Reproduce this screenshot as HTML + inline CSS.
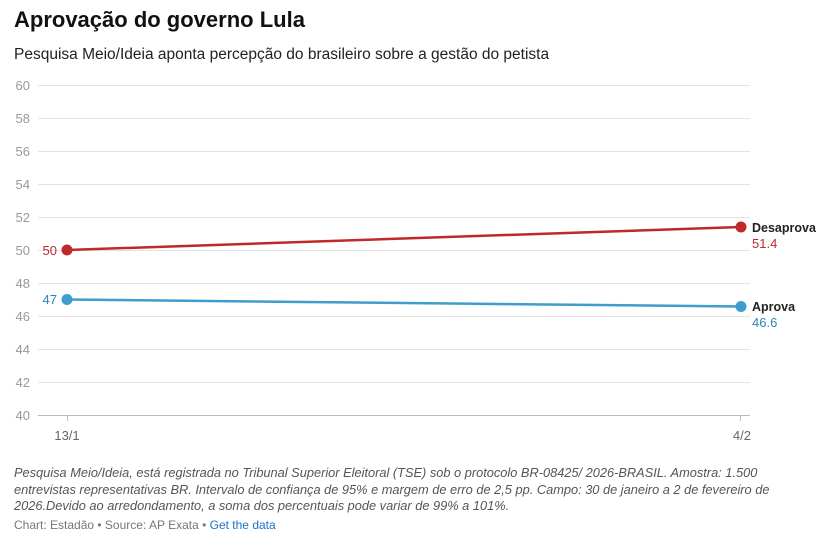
<!DOCTYPE html>
<html><head><meta charset="utf-8"><style>
body{margin:0;background:#fff;font-family:"Liberation Sans",sans-serif;}
.t{position:absolute;left:14px;top:7px;font-size:22px;font-weight:bold;color:#111;}
.s{position:absolute;left:14px;top:46px;font-size:15.5px;color:#222;}
.n{position:absolute;left:14px;top:465px;width:770px;font-size:12.8px;font-style:italic;color:#555;line-height:16.5px;}
.c{position:absolute;left:14px;top:518px;font-size:12px;color:#777;}
.c a{color:#1a73c9;text-decoration:none;}
</style></head><body>
<div class="t">Aprovação do governo Lula</div>
<div class="s">Pesquisa Meio/Ideia aponta percepção do brasileiro sobre a gestão do petista</div>
<svg width="826" height="546" style="position:absolute;left:0;top:0" font-family="Liberation Sans, sans-serif">
<g stroke="#e3e3e3" stroke-width="1">
<line x1="38" x2="750" y1="85.5" y2="85.5"/><line x1="38" x2="750" y1="118.5" y2="118.5"/>
<line x1="38" x2="750" y1="151.5" y2="151.5"/><line x1="38" x2="750" y1="184.5" y2="184.5"/>
<line x1="38" x2="750" y1="217.5" y2="217.5"/><line x1="38" x2="750" y1="250.5" y2="250.5"/>
<line x1="38" x2="750" y1="283.5" y2="283.5"/><line x1="38" x2="750" y1="316.5" y2="316.5"/>
<line x1="38" x2="750" y1="349.5" y2="349.5"/><line x1="38" x2="750" y1="382.5" y2="382.5"/>
</g>
<line x1="38" x2="750" y1="415.5" y2="415.5" stroke="#bbb"/>
<line x1="67.5" x2="67.5" y1="415" y2="421" stroke="#bbb"/>
<line x1="740.5" x2="740.5" y1="415" y2="421" stroke="#bbb"/>
<g font-size="13" fill="#999" text-anchor="end">
<text x="30" y="90">60</text><text x="30" y="123">58</text><text x="30" y="156">56</text>
<text x="30" y="189">54</text><text x="30" y="222">52</text><text x="30" y="255">50</text>
<text x="30" y="288">48</text><text x="30" y="321">46</text><text x="30" y="354">44</text>
<text x="30" y="387">42</text><text x="30" y="420">40</text>
</g>
<g font-size="13" fill="#666">
<text x="67" y="440" text-anchor="middle">13/1</text>
<text x="751" y="440" text-anchor="end">4/2</text>
</g>
<line x1="67" y1="250" x2="741" y2="227" stroke="#c0282a" stroke-width="2.5"/>
<line x1="67" y1="299.5" x2="741" y2="306.5" stroke="#3d9dcc" stroke-width="2.5"/>
<circle cx="67" cy="250" r="5.5" fill="#c0282a"/><circle cx="741" cy="227" r="5.5" fill="#c0282a"/>
<circle cx="67" cy="299.5" r="5.5" fill="#3d9dcc"/><circle cx="741" cy="306.5" r="5.5" fill="#3d9dcc"/>
<text x="57" y="255" font-size="13" fill="#c0282a" text-anchor="end">50</text>
<text x="57" y="304" font-size="13" fill="#2b86b8" text-anchor="end">47</text>
<text x="752" y="232" font-size="12.5" font-weight="bold" fill="#222">Desaprova</text>
<text x="752" y="248" font-size="13" fill="#c0282a">51.4</text>
<text x="752" y="311" font-size="12.5" font-weight="bold" fill="#222">Aprova</text>
<text x="752" y="327" font-size="13" fill="#2b86b8">46.6</text>
</svg>
<div class="n">Pesquisa Meio/Ideia, está registrada no Tribunal Superior Eleitoral (TSE) sob o protocolo BR-08425/ 2026-BRASIL. Amostra: 1.500 entrevistas representativas BR. Intervalo de confiança de 95% e margem de erro de 2,5 pp. Campo: 30 de janeiro a 2 de fevereiro de 2026.Devido ao arredondamento, a soma dos percentuais pode variar de 99% a 101%.</div>
<div class="c">Chart: Estadão • Source: AP Exata • <a>Get the data</a></div>
</body></html>
